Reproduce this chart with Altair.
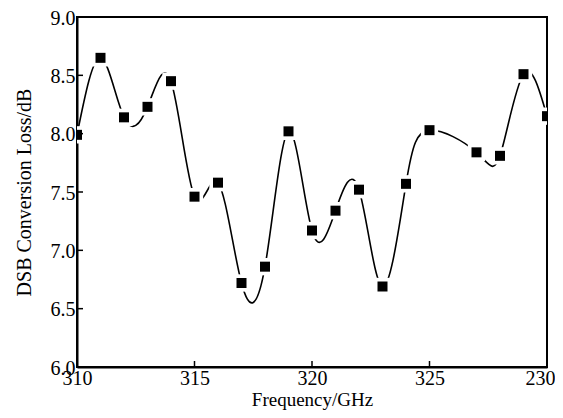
import altair as alt
import pandas as pd

freq = [310, 311, 312, 313, 314, 315, 316, 317, 318, 319, 320, 321, 322, 323, 324, 325, 327, 328, 329, 330]
loss = [7.99, 8.65, 8.14, 8.23, 8.45, 7.46, 7.58, 6.72, 6.86, 8.02, 7.17, 7.34, 7.52, 6.69, 7.57, 8.03, 7.84, 7.81, 8.51, 8.15]
x_ticks = [310, 315, 320, 325, 330]
y_ticks = [6.0, 6.5, 7.0, 7.5, 8.0, 8.5, 9.0]

df = pd.DataFrame({"freq": freq, "loss": loss})
xt = pd.DataFrame({"t": x_ticks})
yt = pd.DataFrame({"t": y_ticks})

W, H = 470, 350
FONT = "Liberation Serif"

xscale = alt.Scale(domain=[310, 330], nice=False, zero=False)
yscale = alt.Scale(domain=[6.0, 9.0], nice=False, zero=False)

base = alt.Chart(df)

line = base.mark_line(interpolate="natural", color="black", strokeWidth=1.6, clip=True).encode(
    x=alt.X("freq:Q", scale=xscale,
            axis=alt.Axis(title="Frequency/GHz", values=x_ticks, format="d",
                          labelExpr="datum.value == 330 ? '230' : datum.label",
                          labelAlign={"condition": {"test": "datum.value == 330", "value": "right"}, "value": "center"},
                          labelOffset={"condition": {"test": "datum.value == 330", "value": 8}, "value": 0},
                          labelFlush=False, labelOverlap=False,
                          ticks=False, grid=False, domainColor="black", domainWidth=2,
                          labelFont=FONT, labelFontSize=20, labelColor="black", labelPadding=1,
                          titleFont=FONT, titleFontSize=19, titleFontWeight="normal",
                          titleColor="black", titlePadding=2)),
    y=alt.Y("loss:Q", scale=yscale,
            axis=alt.Axis(title="DSB Conversion Loss/dB", values=y_ticks, format=".1f",
                          labelFlush=False, labelOverlap=False, labelOffset=1,
                          ticks=False, grid=False, domainColor="black", domainWidth=2,
                          labelFont=FONT, labelFontSize=20, labelColor="black", labelPadding=2,
                          titleFont=FONT, titleFontSize=20, titleFontWeight="normal",
                          titleColor="black", titlePadding=16)),
)

halo = base.mark_point(shape="square", filled=True, color="white", size=300, opacity=1, clip=True).encode(
    x=alt.X("freq:Q", scale=xscale), y=alt.Y("loss:Q", scale=yscale))

pts = base.mark_point(shape="square", filled=True, color="black", size=100, opacity=1, clip=True).encode(
    x=alt.X("freq:Q", scale=xscale), y=alt.Y("loss:Q", scale=yscale))

xticks = alt.Chart(xt).mark_rule(color="black", strokeWidth=1.5).encode(
    x=alt.X("t:Q", scale=xscale), y=alt.value(H), y2=alt.value(H - 6))

yticks = alt.Chart(yt).mark_rule(color="black", strokeWidth=1.5).encode(
    y=alt.Y("t:Q", scale=yscale), x=alt.value(0), x2=alt.value(6))

chart = alt.layer(line, halo, pts, xticks, yticks).properties(
    width=W, height=H,
    autosize=alt.AutoSizeParams(type="none"),
    padding={"left": 69, "top": 9, "right": 8, "bottom": 45},
    background="white",
).configure_view(stroke="black", strokeWidth=2)

chart.save("out.html", embed_options={"renderer": "svg", "actions": False})
